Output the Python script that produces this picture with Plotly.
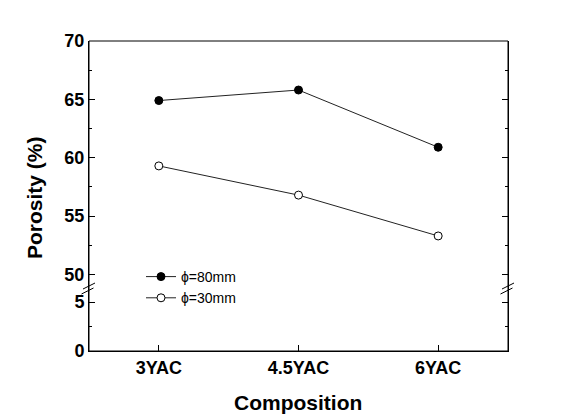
import plotly.graph_objects as go

categories = ["3YAC", "4.5YAC", "6YAC"]
phi80 = [64.9, 65.8, 60.9]
phi30 = [59.3, 56.8, 53.3]
names = ["\u03d5=80mm", "\u03d5=30mm"]
upper_ticks = [50, 55, 60, 65, 70]
lower_ticks = [0, 5]

W, H = 572, 414
OFF = 8  # default body margin of the html page
# target frame in window pixels: left 89, right 508, top 41, bottom 351
L, T = 89 - OFF, 41 - OFF
PW, PH = 508 - 89, 351 - 41
R, B = W - L - PW, H - T - PH
BREAK_PX = 288.5  # window pixel row where the two y segments meet

def px_x(x):
    return (x - 89) / PW

def px_y(y):
    return (351 - y) / PH

split = px_y(BREAK_PX)
FONT = "Liberation Sans, Arial, sans-serif"

fig = go.Figure()
# invisible trace so the lower y segment is drawn
fig.add_trace(go.Scatter(x=categories, y=[None] * len(categories), xaxis="x", yaxis="y",
                         showlegend=False, hoverinfo="skip", mode="lines"))
fig.add_trace(go.Scatter(
    x=categories, y=phi80, name=names[0], mode="lines+markers",
    xaxis="x", yaxis="y2",
    line=dict(color="#222222", width=1),
    marker=dict(symbol="circle", size=8, color="black", line=dict(color="black", width=1)),
))
fig.add_trace(go.Scatter(
    x=categories, y=phi30, name=names[1], mode="lines+markers",
    xaxis="x", yaxis="y2",
    line=dict(color="#222222", width=1),
    marker=dict(symbol="circle", size=8, color="white", line=dict(color="black", width=1)),
))

tickfont = dict(family=FONT, size=18, color="black")
common_y = dict(
    showline=True, linecolor="black", linewidth=1, mirror="allticks",
    ticks="inside", ticklen=6, tickwidth=1, tickcolor="black",
    showgrid=False, zeroline=False, tickfont=tickfont, tickmode="array",
    minor=dict(ticks="inside", ticklen=3, tickwidth=1, tickcolor="black",
               tickmode="linear", tick0=0, dtick=2.5, showgrid=False),
)

fig.update_layout(
    width=W, height=H,
    margin=dict(l=L, r=R, t=T, b=B, pad=0, autoexpand=False),
    paper_bgcolor="white", plot_bgcolor="white",
    showlegend=True,
    xaxis=dict(
        type="category", range=[-0.5, 2.5], anchor="y",
        showline=True, linecolor="black", linewidth=1,
        ticks="inside", ticklen=6, tickwidth=1, tickcolor="black",
        showgrid=False, zeroline=False, tickfont=tickfont,
        tickvals=categories, ticktext=[f"<b>{c}</b>" for c in categories],
    ),
    yaxis=dict(domain=[0, split], range=[0, 6.38], anchor="x",
               tickvals=lower_ticks, ticktext=[f"<b>{v}</b>" for v in lower_ticks], **common_y),
    yaxis2=dict(domain=[split, 1], range=[48.8, 70], anchor="x",
                tickvals=upper_ticks, ticktext=[f"<b>{v}</b>" for v in upper_ticks], **common_y),
    legend=dict(
        x=px_x(141), y=px_y(261), xanchor="left", yanchor="top",
        bgcolor="rgba(0,0,0,0)", borderwidth=0,
        font=dict(family=FONT, size=14, color="black"),
        itemwidth=30, tracegroupgap=0,
    ),
)

# frame
fig.add_shape(type="rect", xref="paper", yref="paper", x0=0, y0=0, x1=1, y1=1,
              line=dict(color="black", width=1), layer="above")

# axis break marks on both sides
for ax in (89, 508):
    for cy, dx0 in ((286, 0), (291, -1.5)):
        fig.add_shape(type="line", xref="paper", yref="paper",
                      x0=px_x(ax - 6 + dx0), y0=px_y(cy + 3),
                      x1=px_x(ax + 6 + dx0), y1=px_y(cy - 3),
                      line=dict(color="black", width=1), layer="above")

fig.add_annotation(text="<b>Porosity (%)</b>", xref="paper", yref="paper",
                   x=px_x(35), y=px_y(197), xanchor="center", yanchor="middle",
                   textangle=-90, showarrow=False,
                   font=dict(family=FONT, size=21, color="black"))
fig.add_annotation(text="<b>Composition</b>", xref="paper", yref="paper",
                   x=px_x(298), y=px_y(402), xanchor="center", yanchor="middle",
                   showarrow=False,
                   font=dict(family=FONT, size=21, color="black"))

fig.write_html("out.html")
